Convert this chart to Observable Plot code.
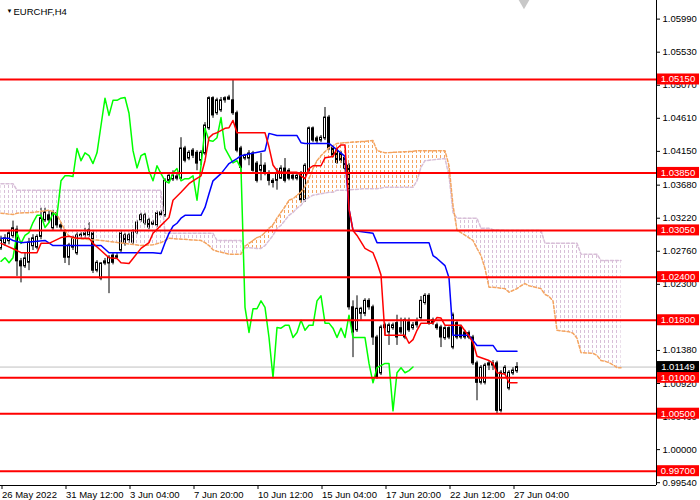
<!DOCTYPE html>
<html>
<head>
<meta charset="utf-8">
<script src="https://cdn.jsdelivr.net/npm/d3@7"></script>
<script src="https://cdn.jsdelivr.net/npm/@observablehq/plot@0.6"></script>
<style>
  body { margin: 0; background: #fff; }
  #chart { width: 700px; height: 500px; }
</style>
</head>
<body>
<div id="chart"></div>
<script>
// EURCHF H4 bars, index 0 = 26 May 2022 20:00
const open = [
  1.0280,1.0287,1.0290,1.0297,1.0306,1.0262,1.0255,1.0260,1.0283,1.0281,
  1.0296,1.0319,1.0326,1.0308,1.0329,1.0312,1.0302,1.0267,1.0281,1.0273,
  1.0299,1.0298,1.0298,1.0301,1.0249,1.0238,1.0259,1.0259,1.0270,1.0269,
  1.0277,1.0298,1.0291,1.0288,1.0302,1.0319,1.0315,1.0319,1.0313,1.0312,
  1.0330,1.0326,1.0374,1.0376,1.0377,1.0377,1.0419,1.0405,1.0416,1.0413,
  1.0402,1.0412,1.0447,1.0489,1.0468,1.0472,1.0486,1.0487,1.0486,1.0468,
  1.0419,1.0405,1.0405,1.0412,1.0398,1.0388,1.0395,1.0384,1.0374,1.0374,
  1.0377,1.0391,1.0388,1.0381,1.0377,1.0384,1.0347,1.0388,1.0447,1.0433,
  1.0430,1.0433,1.0462,1.0420,1.0416,1.0412,1.0406,1.0395,1.0198,1.0166,
  1.0189,1.0189,1.0207,1.0198,1.0156,1.0106,1.0173,1.0163,1.0169,1.0176,
  1.0169,1.0156,1.0177,1.0169,1.0177,1.0183,1.0204,1.0214,1.0180,1.0173,
  1.0170,1.0155,1.0169,1.0142,1.0176,1.0170,1.0163,1.0162,1.0156,1.0120,
  1.0093,1.0093,1.0117,1.0117,1.0120,1.0054,1.0106,1.0085,1.0106,1.0109
]
const high = [
  1.0297,1.0299,1.0305,1.0318,1.0311,1.0266,1.0273,1.0294,1.0299,1.0299,
  1.0336,1.0336,1.0332,1.0333,1.0332,1.0316,1.0306,1.0287,1.0297,1.0302,
  1.0302,1.0308,1.0316,1.0305,1.0263,1.0260,1.0266,1.0270,1.0273,1.0273,
  1.0305,1.0301,1.0301,1.0306,1.0319,1.0329,1.0329,1.0322,1.0319,1.0332,
  1.0333,1.0377,1.0383,1.0388,1.0384,1.0434,1.0422,1.0416,1.0419,1.0416,
  1.0416,1.0455,1.0491,1.0491,1.0489,1.0490,1.0491,1.0493,1.0514,1.0471,
  1.0422,1.0411,1.0416,1.0415,1.0401,1.0412,1.0399,1.0388,1.0377,1.0391,
  1.0395,1.0405,1.0391,1.0385,1.0384,1.0387,1.0398,1.0449,1.0449,1.0436,
  1.0437,1.0476,1.0465,1.0423,1.0419,1.0415,1.0409,1.0398,1.0207,1.0214,
  1.0198,1.0210,1.0210,1.0201,1.0159,1.0173,1.0176,1.0176,1.0176,1.0187,
  1.0183,1.0183,1.0183,1.0177,1.0183,1.0213,1.0217,1.0217,1.0183,1.0176,
  1.0173,1.0171,1.0171,1.0190,1.0179,1.0173,1.0166,1.0165,1.0159,1.0123,
  1.0117,1.0120,1.0123,1.0124,1.0123,1.0110,1.0117,1.0110,1.0114,1.0121
]
const low = [
  1.0277,1.0283,1.0285,1.0294,1.0241,1.0232,1.0252,1.0249,1.0277,1.0278,
  1.0292,1.0316,1.0315,1.0305,1.0308,1.0305,1.0259,1.0256,1.0277,1.0270,
  1.0294,1.0294,1.0295,1.0245,1.0246,1.0235,1.0256,1.0217,1.0257,1.0266,
  1.0273,1.0283,1.0287,1.0284,1.0299,1.0316,1.0312,1.0306,1.0312,1.0309,
  1.0326,1.0323,1.0371,1.0373,1.0374,1.0376,1.0399,1.0402,1.0405,1.0388,
  1.0395,1.0409,1.0444,1.0461,1.0465,1.0469,1.0482,1.0486,1.0465,1.0413,
  1.0384,1.0402,1.0395,1.0386,1.0371,1.0374,1.0381,1.0367,1.0364,1.0361,
  1.0376,1.0371,1.0374,1.0374,1.0374,1.0343,1.0344,1.0385,1.0427,1.0426,
  1.0427,1.0430,1.0416,1.0406,1.0397,1.0398,1.0386,1.0194,1.0128,1.0163,
  1.0180,1.0185,1.0194,1.0145,1.0098,1.0103,1.0159,1.0145,1.0166,1.0145,
  1.0160,1.0153,1.0163,1.0166,1.0169,1.0180,1.0201,1.0173,1.0173,1.0166,
  1.0142,1.0152,1.0153,1.0139,1.0153,1.0153,1.0153,1.0153,1.0117,1.0068,
  1.0090,1.0090,1.0110,1.0110,1.0050,1.0051,1.0103,1.0082,1.0103,1.0106
]
const close = [
  1.0291,1.0294,1.0301,1.0308,1.0262,1.0255,1.0266,1.0288,1.0294,1.0296,
  1.0322,1.0330,1.0319,1.0329,1.0312,1.0309,1.0267,1.0284,1.0294,1.0298,
  1.0297,1.0301,1.0305,1.0249,1.0260,1.0259,1.0262,1.0267,1.0260,1.0267,
  1.0301,1.0287,1.0298,1.0302,1.0316,1.0326,1.0326,1.0309,1.0316,1.0329,
  1.0326,1.0374,1.0381,1.0381,1.0380,1.0419,1.0402,1.0413,1.0409,1.0398,
  1.0413,1.0451,1.0489,1.0465,1.0486,1.0486,1.0489,1.0490,1.0468,1.0416,
  1.0392,1.0409,1.0412,1.0388,1.0374,1.0395,1.0384,1.0374,1.0371,1.0385,
  1.0391,1.0374,1.0377,1.0377,1.0381,1.0347,1.0395,1.0447,1.0430,1.0429,
  1.0434,1.0462,1.0419,1.0409,1.0399,1.0402,1.0391,1.0198,1.0163,1.0196,
  1.0196,1.0207,1.0198,1.0156,1.0100,1.0170,1.0169,1.0173,1.0173,1.0156,
  1.0163,1.0180,1.0166,1.0173,1.0173,1.0207,1.0214,1.0176,1.0176,1.0169,
  1.0156,1.0169,1.0156,1.0187,1.0156,1.0156,1.0156,1.0156,1.0120,1.0093,
  1.0114,1.0117,1.0120,1.0120,1.0054,1.0107,1.0114,1.0107,1.0110,1.01149
]

// Tenkan-sen (red) at bar indices
const tenkanIdx = [0,4,5,9,10,12,15,17,19,22,23,25,27,29,30,32,33,35,37,38,40,42,43,45,47,48,50,51,52,53,
  54,56,57,58,59,66,67,68,69,70,74,75,76,77,78,80,81,83,84,85,86,87,88,89,91,92,93,94,95,96,
  101,102,103,104,105,108,109,110,111,115,116,117,118,119,122,123,124,126,127,129]
const tenkanVal = [1.0287,1.0277,1.0274,1.0274,1.0287,1.0287,1.0295,1.0297,1.0294,1.0294,
  1.0287,1.0277,1.0267,1.0266,1.0260,1.0259,1.0266,1.0280,1.0288,1.0301,
  1.0312,1.0323,1.0347,1.0358,1.0370,1.0374,1.0381,1.0402,1.0434,1.0439,
  1.0441,1.0447,1.0448,1.0458,1.0441,1.0441,1.0421,1.0396,1.0388,1.0386,
  1.0386,1.0381,1.0377,1.0391,1.0395,1.0395,1.0406,1.0408,1.0419,1.0424,
  1.0424,1.0335,1.0305,1.0298,1.0280,1.0277,1.0274,1.0260,1.0243,1.0159,
  1.0159,1.0148,1.0153,1.0166,1.0176,1.0176,1.0184,1.0183,1.0173,1.0173,
  1.0165,1.0158,1.0149,1.0130,1.0124,1.0120,1.0107,1.0105,1.0093,1.0093]

// Kijun-sen (blue)
const kijunIdx = [0,2,3,5,11,13,25,27,38,40,41,42,43,44,45,46,50,51,52,53,55,56,57,59,60,66,67,69,74,75,
  76,82,86,87,88,93,94,107,108,109,111,112,113,117,118,119,123,124,129]
const kijunVal = [1.0294,1.0294,1.0291,1.0288,1.0291,1.0284,1.0284,1.0274,1.0274,1.0273,
  1.0288,1.0301,1.0311,1.0315,1.0322,1.0326,1.0326,1.0337,1.0356,1.0374,
  1.0384,1.0391,1.0398,1.0405,1.0409,1.0416,1.0440,1.0437,1.0437,1.0427,
  1.0426,1.0426,1.0408,1.0335,1.0305,1.0301,1.0288,1.0288,1.0270,1.0266,
  1.0256,1.0239,1.0159,1.0159,1.0152,1.0145,1.0145,1.0137,1.0137]

// Kumo: Senkou span A (sandy brown) and B (thistle), already shifted 26 bars forward
const cloudIdx = [0,3,4,8,12,13,14,15,16,17,18,25,35,38,40,41,42,50,51,52,53,54,57,60,
  61,62,64,65,66,67,68,69,70,71,72,73,74,75,76,77,78,79,80,82,83,84,86,91,93,94,96,103,104,105,106,111,112,113,
  114,115,118,119,120,121,122,123,126,127,129,130,131,132,135,136,137,138,139,142,143,144,145,148,149,150,151,152,153,154,155]
const spanA = [1.0329,1.0327,1.0329,1.0330,1.0333,1.0331,1.0327,1.0316,1.0305,1.0297,
  1.0294,1.0291,1.0284,1.0285,1.0288,1.0291,1.0294,1.0291,1.0288,1.0284,1.0278,1.0276,1.0272,1.0272,
  1.0283,1.0287,1.0295,1.0297,1.0302,1.0308,1.0313,1.0322,1.0330,1.0338,
  1.0347,1.0349,1.0354,1.0358,1.0366,1.0377,1.0391,1.0402,1.0409,1.0420,
  1.0423,1.0426,1.0427,1.0429,1.0430,1.0416,1.0413,1.0415,1.0416,1.0416,1.0416,1.0416,1.0395,1.0340,
  1.0305,1.0302,1.0291,1.0280,1.0270,1.0252,1.0226,1.0226,1.0224,1.0219,
  1.0224,1.0228,1.0231,1.0228,1.0224,1.0216,1.0213,1.0207,1.0166,1.0164,
  1.0162,1.0155,1.0135,1.0134,1.0131,1.0124,1.0123,1.0121,1.0118,1.0114,1.0114]
const spanB = [1.0370,1.0370,1.0361,1.0361,1.0361,1.0361,1.0361,1.0361,1.0361,1.0361,
  1.0361,1.0361,1.0361,1.0361,1.0361,1.0301,1.0301,1.0301,1.0301,1.0301,1.0301,1.0291,1.0291,1.0291,
  1.0281,1.0281,1.0280,1.0280,1.0284,1.0291,1.0298,1.0308,1.0312,1.0319,
  1.0326,1.0330,1.0336,1.0340,1.0347,1.0351,1.0354,1.0355,1.0356,1.0358,
  1.0358,1.0361,1.0361,1.0363,1.0363,1.0363,1.0365,1.0365,1.0374,1.0393,1.0402,1.0405,1.0381,1.0330,
  1.0322,1.0322,1.0322,1.0322,1.0308,1.0308,1.0308,1.0306,1.0305,1.0305,
  1.0305,1.0305,1.0305,1.0305,1.0305,1.0287,1.0287,1.0287,1.0287,1.0287,
  1.0287,1.0287,1.0272,1.0272,1.0272,1.0263,1.0263,1.0263,1.0263,1.0263,1.0263]

const levels = [1.0515, 1.0385, 1.0305, 1.0240, 1.0180, 1.0100, 1.0050, 0.9970]
// 1.01840 sits fully under the 1.01800 tag in the original, so it is left out
const yTicks = [1.0599,1.0553,1.0507,1.0461,1.0415,1.0368,1.0322,1.0276,1.0230,1.0138,1.0092,1.0046,1.0000,0.9954]
const xTickIdx = [0, 16, 32, 48, 64, 80, 96, 112, 128]
const xTickText = ["26 May 2022","31 May 12:00","3 Jun 04:00","7 Jun 20:00","10 Jun 12:00",
  "15 Jun 04:00","17 Jun 20:00","22 Jun 12:00","27 Jun 04:00"]

const candles = open.map((o, i) => ({i, open: o, high: high[i], low: low[i], close: close[i]}))
const chikou = candles.filter(d => d.i >= 26).map(d => ({i: d.i - 26, close: d.close}))
const tenkan = tenkanIdx.map((i, k) => ({i, v: tenkanVal[k]}))
const kijun = kijunIdx.map((i, k) => ({i, v: kijunVal[k]}))
const cloud = cloudIdx.map((j, k) => ({j, a: spanA[k], b: spanB[k]}))
let run = 0
cloud.forEach((d, k) => {
  d.up = d.a >= d.b
  if (k > 0 && d.up !== cloud[k - 1].up) run++
  d.run = run
})
const lastPrice = close[close.length - 1]

const font = "'Liberation Sans', Arial, sans-serif"
const W = 700, H = 500, mRight = 44, mBottom = 15

const chart = Plot.plot({
  width: W,
  height: H,
  marginTop: 0,
  marginRight: mRight,
  marginBottom: mBottom,
  marginLeft: 0,
  style: {fontFamily: font, fontSize: "9.5px", background: "white", color: "black"},
  x: {domain: [-0.125, 163.875]},
  y: {domain: [0.99501, 1.06249]},
  marks: [
    Plot.ruleY([lastPrice], {stroke: "#c0c0c0"}),
    // candles
    Plot.ruleX(candles, {x: "i", y1: "low", y2: "high", stroke: "black"}),
    Plot.rect(candles, {filter: d => d.close >= d.open, x1: d => d.i - 0.25, x2: d => d.i + 0.25,
      y1: "open", y2: "close", fill: "white", stroke: "black"}),
    Plot.rect(candles, {filter: d => d.close < d.open, x1: d => d.i - 0.25, x2: d => d.i + 0.25,
      y1: "open", y2: "close", fill: "black", stroke: "black"}),
    // kumo
    Plot.areaY(cloud, {filter: d => d.up, x: "j", y1: "a", y2: "b", z: "run", fill: "url(#hatchUp)"}),
    Plot.areaY(cloud, {filter: d => !d.up, x: "j", y1: "a", y2: "b", z: "run", fill: "url(#hatchDn)"}),
    Plot.line(cloud, {x: "j", y: "b", stroke: "#d8bfd8", strokeDasharray: "3,2"}),
    Plot.line(cloud, {x: "j", y: "a", stroke: "#f4a460", strokeDasharray: "3,2"}),
    // ichimoku lines
    Plot.line(chikou, {x: "i", y: "close", stroke: "#00ff00"}),
    Plot.line(kijun, {x: "i", y: "v", stroke: "#0000ff"}),
    Plot.line(tenkan, {x: "i", y: "v", stroke: "#ff0000"}),
    // support / resistance
    Plot.ruleY(levels, {stroke: "#ff0000", strokeWidth: 2}),
    // frame right + bottom
    Plot.ruleX([163.875], {stroke: "black"}),
    Plot.ruleY([0.99501], {stroke: "black"}),
    Plot.axisY({anchor: "right", ticks: yTicks, tickFormat: d => d.toFixed(5), tickSize: 3, tickPadding: 3}),
    Plot.axisX({ticks: xTickIdx, tickFormat: d => xTickText[xTickIdx.indexOf(d)],
      textAnchor: "start", tickSize: 4, tickPadding: 2, dx: 1}),
    // symbol caption + chart-shift marker
    Plot.text(["▼"], {frameAnchor: "top-left", dx: 6, dy: 8, fontSize: 6, fill: "black"}),
    Plot.text(["EURCHF,H4"], {frameAnchor: "top-left", dx: 13, dy: 8, textAnchor: "start", fill: "black"}),
    Plot.dot([130.75], {x: d => d, frameAnchor: "top", symbol: "triangle", rotate: 180, r: 5, dy: 1, fill: "#c8c8c8"})
  ]
})

// hatch patterns for the cloud
d3.select(chart).insert("defs", ":first-child").html(
  `<pattern id="hatchUp" width="4" height="5" patternUnits="userSpaceOnUse">
     <rect x="0" y="0" width="1" height="3" fill="#f4a460"></rect></pattern>
   <pattern id="hatchDn" width="4" height="5" patternUnits="userSpaceOnUse">
     <rect x="0" y="0" width="1" height="3" fill="#d8bfd8"></rect></pattern>`)

// price tags on the right axis
const ys = chart.scale("y")
const tagX = W - mRight + 1
const tags = d3.select(chart).append("g")
  .attr("font-family", font).attr("font-size", "9.5px")
function tag(v, bg, txt) {
  const yy = ys.apply(v)
  tags.append("rect").attr("x", tagX).attr("y", yy - 5.5).attr("width", mRight - 2).attr("height", 11).attr("fill", bg)
  tags.append("text").attr("x", tagX + (mRight - 2) / 2).attr("y", yy).attr("dy", "0.35em")
    .attr("text-anchor", "middle").attr("fill", "white").text(txt)
}
levels.forEach(v => tag(v, "#ff0000", v.toFixed(5)))
tag(lastPrice, "#000000", lastPrice.toFixed(5))

d3.select('#chart').append(() => chart)
</script>
</body>
</html>
